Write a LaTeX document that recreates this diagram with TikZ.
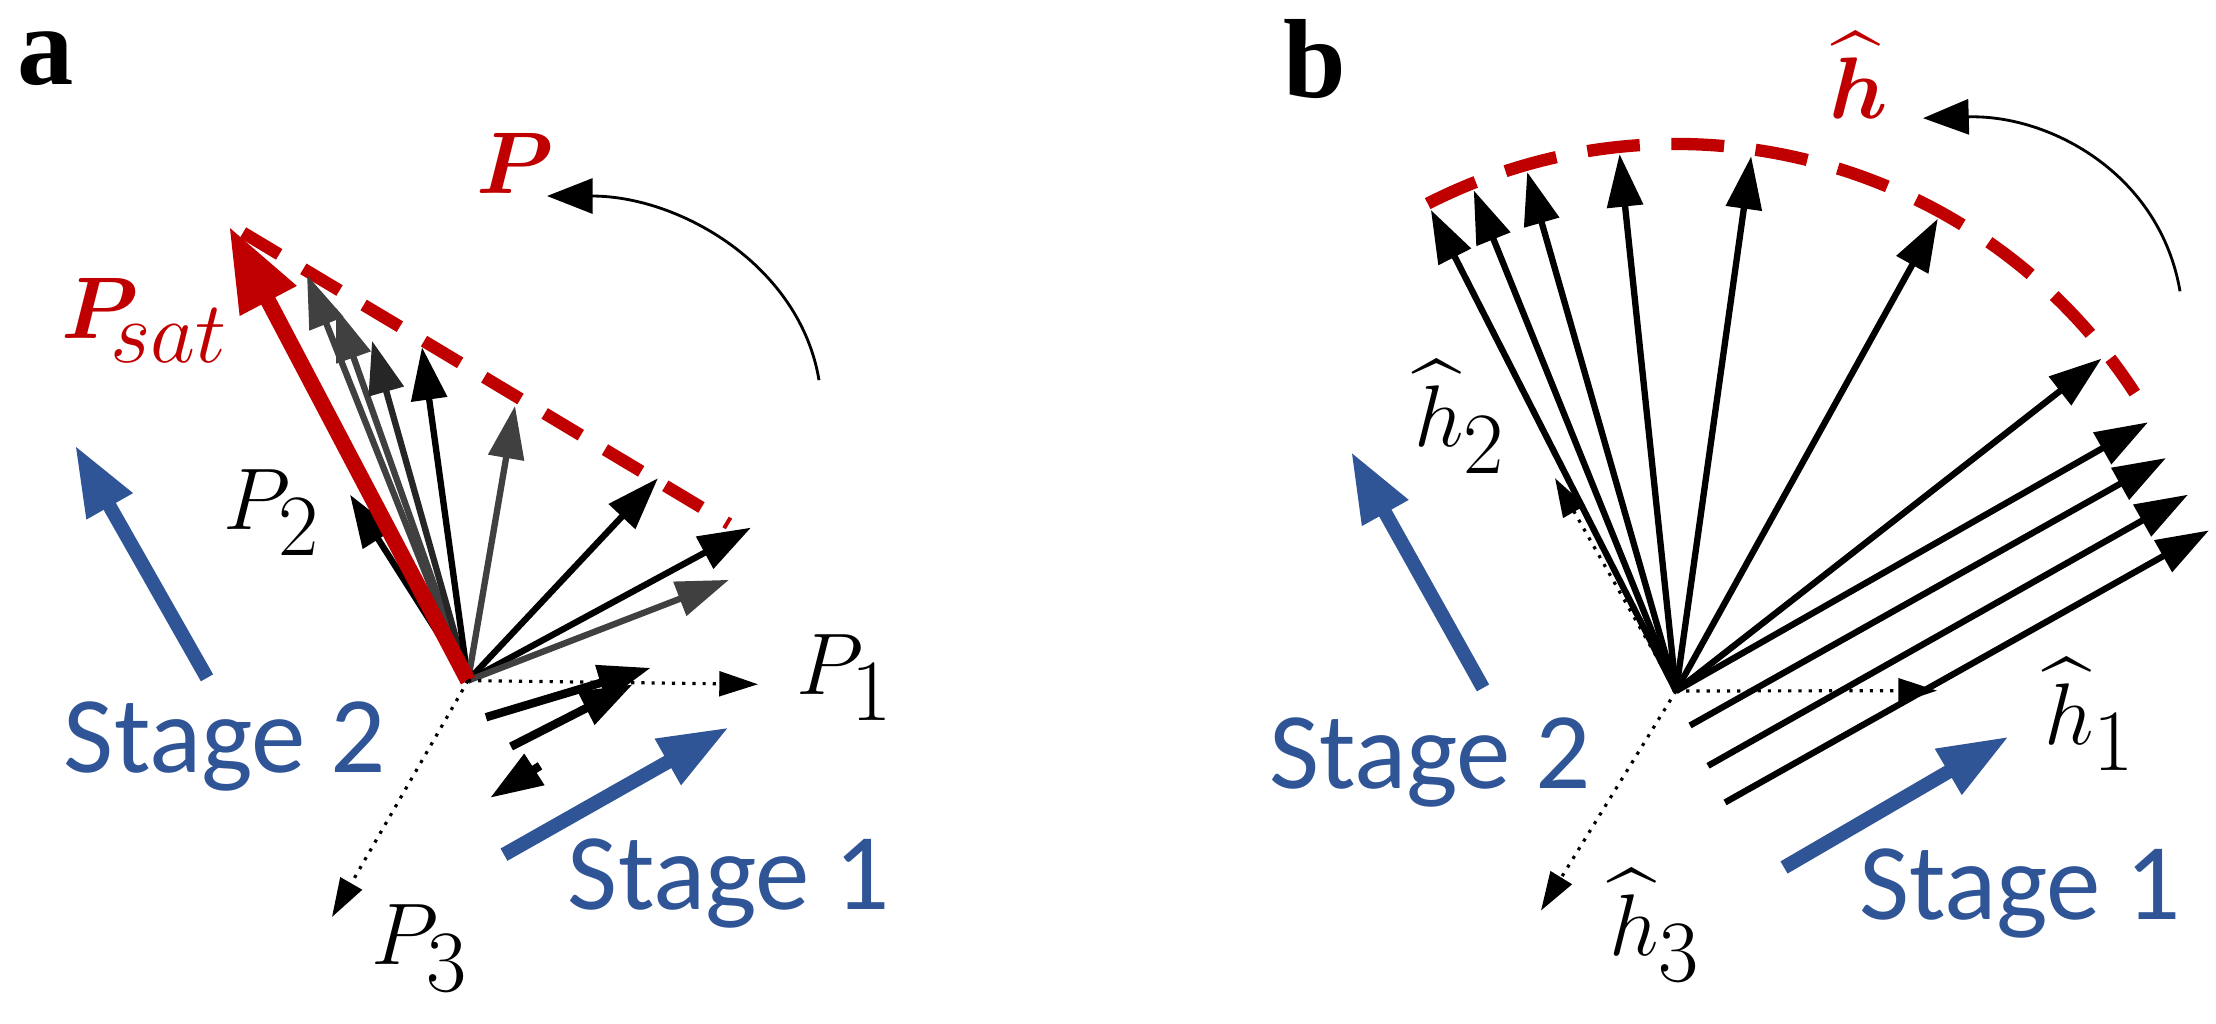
\documentclass[tikz,border=0pt]{standalone}
\usepackage{amsmath,bm}
\usepackage{fontspec}
\newfontfamily\stagefont{Carlito}
\newfontfamily\labfont{Liberation Serif}
\usetikzlibrary{arrows.meta}
\definecolor{myred}{HTML}{C00000}
\definecolor{myblue}{HTML}{2F5597}
\begin{document}
\begin{tikzpicture}[x=0.01cm,y=-0.00916cm,
  vec/.style={line width=1.8pt,-{Triangle[length=15pt,width=10pt]}},
  gvec/.style={vec,draw=black!75,fill=black!75},
  dot/.style={line width=0.9pt,dotted,-{Triangle[length=11pt,width=7pt]}},
  bluearr/.style={draw=myblue,line width=4pt,-{Triangle[length=20pt,width=14pt]},fill=myblue},
  stage/.style={text=myblue,font=\stagefont\fontsize{31}{34}\selectfont},
  mlab/.style={font=\fontsize{35}{38}\selectfont},
  panel/.style={font=\labfont\bfseries\fontsize{32}{36}\selectfont},
  reddash/.style={draw=myred,line width=3.5pt,dash pattern=on 12pt off 8pt},
  curv/.style={line width=0.8pt,-{Triangle[length=13pt,width=10pt]}}]
\useasboundingbox (0,0) rectangle (2216,1117);
% ---------- panel a ----------
\node[panel] (la) at (46,64) {a};
\coordinate (O) at (468,743);
\coordinate (ds) at (243,254); \coordinate (de) at (729,572);
\draw[reddash] (ds) -- (de);
\coordinate (a0) at (350,540);
\coordinate (a1) at (307,300); \coordinate (a2) at (336,336); \coordinate (a3) at (372,372);
\coordinate (a4) at (422,379); \coordinate (a5) at (515,443); \coordinate (a6) at (658,522);
\coordinate (a7) at (751,576); \coordinate (a8) at (729,633);
\draw[vec] (O) -- (a0);
\draw[gvec] (O) -- (a1);
\draw[gvec] (O) -- (a2);
\draw[vec,draw=black!85,fill=black!85] (O) -- (a3);
\draw[vec] (O) -- (a4);
\draw[gvec] (O) -- (a5);
\draw[vec] (O) -- (a6);
\draw[vec] (O) -- (a7);
\draw[gvec] (O) -- (a8);
\coordinate (R) at (229,247);
\draw[myred,line width=4.5pt,-{Triangle[length=24pt,width=17pt]}] (O) -- (R);
\coordinate (P1e) at (758,747); \coordinate (P3e) at (332,1001);
\draw[dot] (O) -- (P1e);
\draw[dot] (O) -- (P3e);
\coordinate (s1a) at (486,783); \coordinate (s1b) at (651,729);
\coordinate (s2a) at (511,815); \coordinate (s2b) at (633,747);
\coordinate (s3a) at (540,836); \coordinate (s3b) at (490,871);
\draw[vec,line width=2.4pt] (s1a) -- (s1b);
\draw[vec,line width=2.4pt] (s2a) -- (s2b);
\draw[vec,line width=2.4pt] (s3a) -- (s3b);
\coordinate (ca) at (819,415); \coordinate (cb) at (547,214);
\draw[curv] (ca) .. controls (800,290) and (680,214) .. (cb);
\node[text=myred,font=\fontsize{40}{44}\selectfont] (Plab) at (515,178) {$\bm{P}$};
\node[text=myred,font=\fontsize{40}{44}\selectfont] (Psat) at (145,350) {$\bm{P}_{\!\textstyle sat}$};
\node[mlab] (P1l) at (845,740) {$P_1$};
\node[mlab] (P2l) at (272,560) {$P_2$};
\node[mlab] (P3l) at (420,1035) {$P_3$};
\coordinate (b2s) at (207,740); \coordinate (b2e) at (75,486);
\coordinate (b1s) at (504,933); \coordinate (b1e) at (729,794);
\draw[bluearr] (b2s) -- (b2e);
\draw[bluearr] (b1s) -- (b1e);
\node[stage] (st2a) at (225,815) {Stage 2};
\node[stage] (st1a) at (729,965) {Stage 1};
% ---------- panel b ----------
\node[panel] (lb) at (1315,64) {b};
\begin{scope}[y=-0.01cm]
\coordinate (Q) at (1676,691);
\draw[reddash,dash pattern=on 15pt off 9pt] ([shift={(-117:547)}]Q) arc[start angle=-117,end angle=-33,radius=547];
\foreach \ang [count=\i] in {117,112,106,96,82,61,38}{
  \coordinate (h\i) at ([shift={(-\ang:540)}]Q);
}
\end{scope}
\foreach \i in {1,...,7}{\draw[vec] (Q) -- (h\i);}
\coordinate (p2s) at (1690,792); \coordinate (p2e) at (2166,500);
\coordinate (p3s) at (1708,836); \coordinate (p3e) at (2188,540);
\coordinate (p4s) at (1725,876); \coordinate (p4e) at (2209,579);
\coordinate (p1e) at (2148,461);
\draw[vec] (Q) -- (p1e);
\draw[vec] (p2s) -- (p2e);
\draw[vec] (p3s) -- (p3e);
\draw[vec] (p4s) -- (p4e);
\coordinate (H1) at (1937,754); \coordinate (H2) at (1555,522); \coordinate (H3) at (1541,994);
\draw[dot] (Q) -- (H1);
\draw[dot] (Q) -- (H2);
\draw[dot] (Q) -- (H3);
\node[mlab] (h1l) at (2090,780) {$\widehat{h}_1$};
\node[mlab] (h2l) at (1460,455) {$\widehat{h}_2$};
\node[mlab] (h3l) at (1655,1010) {$\widehat{h}_3$};
\node[text=myred,font=\fontsize{40}{44}\selectfont] (hlab) at (1859,82) {$\widehat{\bm{h}}$};
\coordinate (cc) at (2180,318); \coordinate (cd) at (1923,129);
\draw[curv] (cc) .. controls (2160,190) and (2050,125) .. (cd);
\coordinate (c2s) at (1483,751); \coordinate (c2e) at (1351,493);
\coordinate (c1s) at (1784,947); \coordinate (c1e) at (2009,804);
\draw[bluearr] (c2s) -- (c2e);
\draw[bluearr] (c1s) -- (c1e);
\node[stage] (st2b) at (1430,832) {Stage 2};
\node[stage] (st1b) at (2020,975) {Stage 1};
\end{tikzpicture}
\end{document}
